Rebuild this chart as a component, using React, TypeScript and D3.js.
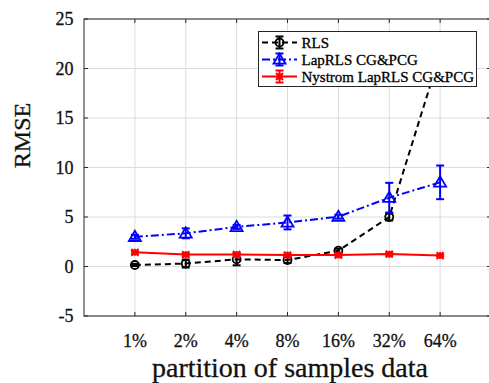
import { useEffect, useRef } from 'react';
import * as d3 from 'd3';

const categories = ['1%', '2%', '4%', '8%', '16%', '32%', '64%'];
const yTicks = [-5, 0, 5, 10, 15, 20, 25];

const rlsValues = [0.15, 0.3, 0.72, 0.65, 1.6, 5.0, 21.5];
const rlsErrors = [0.1, 0.4, 0.6, 0.3, 0.2, 0.35, 0.5];
const lapValues = [3.0, 3.35, 4.0, 4.45, 5.03, 6.95, 8.5];
const lapErrors = [0.2, 0.5, 0.2, 0.7, 0.2, 1.5, 1.7];
const nysValues = [1.43, 1.2, 1.22, 1.15, 1.15, 1.25, 1.1];
const nysErrors = [0.15, 0.15, 0.15, 0.15, 0.15, 0.15, 0.1];

const seriesNames = ['RLS', 'LapRLS CG&PCG', 'Nystrom LapRLS CG&PCG'];

export default function App() {
  const svgRef = useRef<SVGSVGElement>(null);

  useEffect(() => {
    if (!svgRef.current) return;
    const svg = d3.select(svgRef.current);
    svg.selectAll('*').remove();

    const W = 489, H = 383;
    const left = 84, right = 491, top = 19, bottom = 316;
    const font = '"Liberation Serif", "Times New Roman", serif';
    const ink = '#111';

    const x = d3.scaleLinear().domain([0, 8]).range([left, right]);
    const y = d3.scaleLinear().domain([-5, 25]).range([bottom, top]);

    svg.attr('width', W).attr('height', H);

    svg.append('defs').append('clipPath').attr('id', 'plotclip')
      .append('rect').attr('x', left).attr('y', top)
      .attr('width', right - left).attr('height', bottom - top);

    // grid
    const grid = svg.append('g');
    categories.forEach((c, i) => {
      grid.append('line')
        .attr('x1', x(i + 1)).attr('x2', x(i + 1))
        .attr('y1', top).attr('y2', bottom)
        .attr('stroke', '#dcdcdc').attr('stroke-width', 1);
    });
    yTicks.forEach(t => {
      grid.append('line')
        .attr('x1', left).attr('x2', right)
        .attr('y1', y(t)).attr('y2', y(t))
        .attr('stroke', '#dcdcdc').attr('stroke-width', 1);
    });

    // axes box + ticks
    const axes = svg.append('g').attr('stroke', '#262626').attr('stroke-width', 1);
    axes.append('rect')
      .attr('x', left).attr('y', top)
      .attr('width', right - left).attr('height', bottom - top)
      .attr('fill', 'none');
    categories.forEach((c, i) => {
      axes.append('line').attr('x1', x(i + 1)).attr('x2', x(i + 1)).attr('y1', bottom).attr('y2', bottom - 4);
      axes.append('line').attr('x1', x(i + 1)).attr('x2', x(i + 1)).attr('y1', top).attr('y2', top + 4);
    });
    yTicks.forEach(t => {
      axes.append('line').attr('x1', left).attr('x2', left + 4).attr('y1', y(t)).attr('y2', y(t));
      axes.append('line').attr('x1', right).attr('x2', right - 4).attr('y1', y(t)).attr('y2', y(t));
    });

    const txt = (sel: any, size: number) => sel
      .attr('font-family', font).attr('font-size', size).attr('fill', ink)
      .attr('stroke', ink).attr('stroke-width', 0.3);

    // tick labels
    txt(svg.append('g').selectAll('text').data(categories).enter().append('text')
      .attr('x', (d, i) => x(i + 1)).attr('y', 346.5)
      .attr('text-anchor', 'middle'), 18)
      .text(d => d);
    txt(svg.append('g').selectAll('text').data(yTicks).enter().append('text')
      .attr('x', 73.5).attr('y', d => y(d)).attr('dy', '0.35em')
      .attr('text-anchor', 'end'), 18)
      .text(d => d);

    // axis titles
    txt(svg.append('text')
      .attr('x', 290).attr('y', 377)
      .attr('text-anchor', 'middle'), 28)
      .text('partition of samples data');
    txt(svg.append('text')
      .attr('transform', `translate(30,135.5) rotate(-90)`)
      .attr('text-anchor', 'middle'), 24)
      .text('RMSE');

    const plot = svg.append('g').attr('clip-path', 'url(#plotclip)');

    const drawMarker = (g: any, kind: string, cx: number, cy: number, color: string) => {
      if (kind === 'circle') {
        g.append('circle').attr('cx', cx).attr('cy', cy).attr('r', 4)
          .attr('fill', 'none').attr('stroke', color).attr('stroke-width', 1.8);
      } else if (kind === 'triangle') {
        const s = 6;
        g.append('path')
          .attr('d', `M${cx},${cy - s} L${cx + s},${cy + s * 0.7} L${cx - s},${cy + s * 0.7} Z`)
          .attr('fill', 'none').attr('stroke', color).attr('stroke-width', 1.8);
      } else {
        const s = 3.5;
        g.append('path')
          .attr('d', `M${cx - s},${cy} L${cx + s},${cy} M${cx},${cy - s} L${cx},${cy + s} M${cx - s},${cy - s} L${cx + s},${cy + s} M${cx - s},${cy + s} L${cx + s},${cy - s}`)
          .attr('stroke', color).attr('stroke-width', 2);
      }
    };

    const series = [
      { values: rlsValues, errors: rlsErrors, color: '#000000', dash: '6,4', marker: 'circle' },
      { values: lapValues, errors: lapErrors, color: '#0000ff', dash: '8,3,2,3', marker: 'triangle' },
      { values: nysValues, errors: nysErrors, color: '#ff0000', dash: null, marker: 'star' }
    ];

    const line = d3.line<number>().x((d, i) => x(i + 1)).y(d => y(d));

    series.forEach(s => {
      const g = plot.append('g');
      const p = g.append('path').datum(s.values)
        .attr('d', line)
        .attr('fill', 'none').attr('stroke', s.color).attr('stroke-width', 2);
      if (s.dash) p.attr('stroke-dasharray', s.dash);
      s.values.forEach((v, i) => {
        const cx = x(i + 1);
        const y0 = y(v - s.errors[i]), y1 = y(v + s.errors[i]);
        g.append('line').attr('x1', cx).attr('x2', cx).attr('y1', y0).attr('y2', y1)
          .attr('stroke', s.color).attr('stroke-width', 2);
        [y0, y1].forEach(yy => {
          g.append('line').attr('x1', cx - 4).attr('x2', cx + 4).attr('y1', yy).attr('y2', yy)
            .attr('stroke', s.color).attr('stroke-width', 2);
        });
        drawMarker(g, s.marker, cx, y(v), s.color);
      });
    });

    // legend
    const lg = svg.append('g');
    lg.append('rect')
      .attr('x', 258.5).attr('y', 31.5).attr('width', 218).attr('height', 55)
      .attr('fill', 'white').attr('stroke', '#262626').attr('stroke-width', 1);
    const rowY = [42.5, 59.5, 76.5];
    series.forEach((s, i) => {
      const ly = rowY[i];
      const l = lg.append('line').attr('x1', 262).attr('x2', 297).attr('y1', ly).attr('y2', ly)
        .attr('stroke', s.color).attr('stroke-width', 2);
      if (s.dash) l.attr('stroke-dasharray', s.dash);
      lg.append('line').attr('x1', 279.5).attr('x2', 279.5).attr('y1', ly - 6).attr('y2', ly + 6)
        .attr('stroke', s.color).attr('stroke-width', 2);
      [ly - 6, ly + 6].forEach(yy => {
        lg.append('line').attr('x1', 275.5).attr('x2', 283.5).attr('y1', yy).attr('y2', yy)
          .attr('stroke', s.color).attr('stroke-width', 2);
      });
      drawMarker(lg, s.marker, 279.5, ly, s.color);
      txt(lg.append('text')
        .attr('x', 301.5).attr('y', ly).attr('dy', '0.35em'), 15)
        .attr('fill', '#000').attr('stroke', '#000')
        .text(seriesNames[i]);
    });
  }, []);

  return (
    <div style={{ position: 'absolute', left: 0, top: 0 }}>
      <svg ref={svgRef} style={{ display: 'block' }} />
    </div>
  );
}
